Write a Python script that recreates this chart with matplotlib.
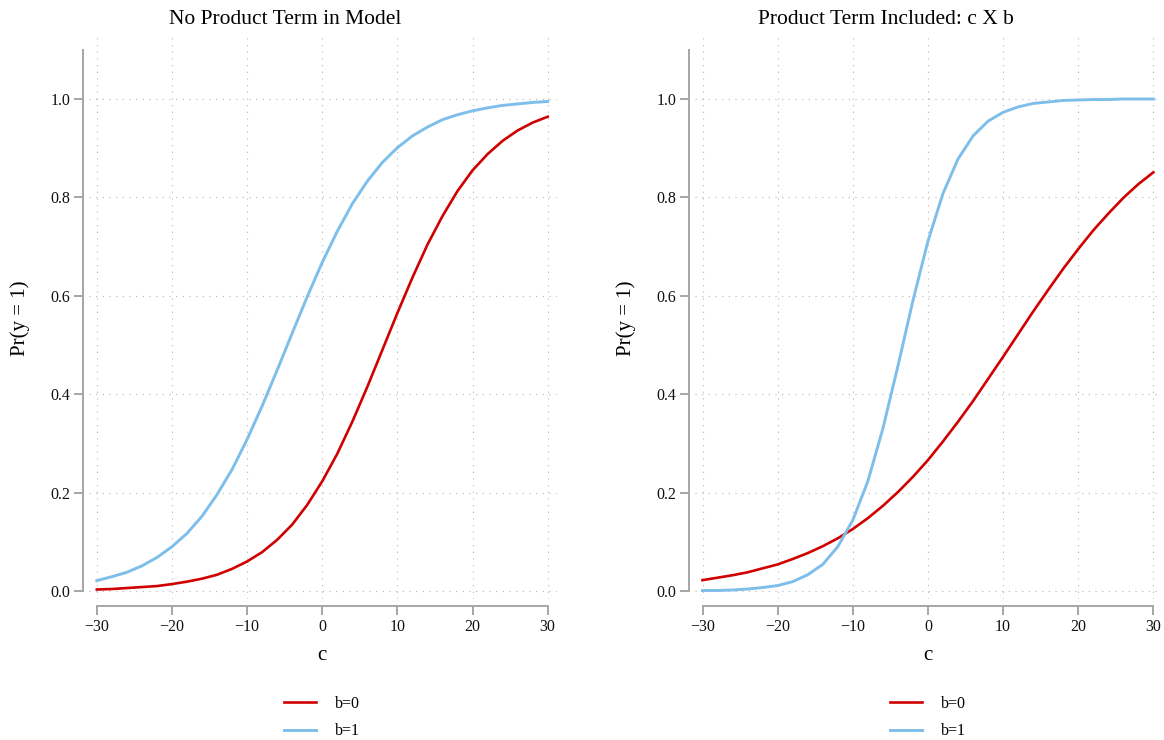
import matplotlib
matplotlib.use("Agg")
import matplotlib.pyplot as plt

plt.rcParams['font.family'] = ['Liberation Serif', 'DejaVu Serif']

# predicted probabilities (c = -30, -28, ..., 30)
c_vals = list(range(-30, 31, 2))

no_prod_b0 = [0.003, 0.004, 0.006, 0.008, 0.010, 0.014, 0.019, 0.025, 0.033, 0.045,
              0.060, 0.079, 0.104, 0.135, 0.175, 0.223, 0.279, 0.344, 0.415, 0.490,
              0.565, 0.637, 0.704, 0.762, 0.813, 0.855, 0.888, 0.915, 0.936, 0.952, 0.964]
no_prod_b1 = [0.021, 0.029, 0.038, 0.051, 0.068, 0.090, 0.117, 0.152, 0.196, 0.247,
              0.308, 0.376, 0.449, 0.524, 0.598, 0.668, 0.731, 0.787, 0.833, 0.871,
              0.901, 0.925, 0.943, 0.958, 0.968, 0.976, 0.982, 0.987, 0.990, 0.993, 0.995]

prod_b0 = [0.022, 0.027, 0.032, 0.038, 0.046, 0.054, 0.065, 0.077, 0.091, 0.107,
           0.126, 0.148, 0.173, 0.201, 0.232, 0.266, 0.304, 0.344, 0.386, 0.431,
           0.476, 0.522, 0.568, 0.612, 0.655, 0.695, 0.733, 0.767, 0.799, 0.827, 0.851]
prod_b1 = [0.001, 0.001, 0.002, 0.004, 0.007, 0.011, 0.019, 0.033, 0.054, 0.090,
           0.144, 0.223, 0.330, 0.457, 0.590, 0.711, 0.808, 0.878, 0.925, 0.955,
           0.973, 0.984, 0.991, 0.994, 0.997, 0.998, 0.999, 0.999, 1.000, 1.000, 1.000]

titles = ["No Product Term in Model", "Product Term Included: c X b"]
legend_labels = ["b=0", "b=1"]
x_ticks = [-30, -20, -10, 0, 10, 20, 30]
y_ticks = [0.0, 0.2, 0.4, 0.6, 0.8, 1.0]

RED = '#D10000'
BLUE = '#7DBEEA'
GRAY = '#A6A6A6'

W, H = 1164, 740
fig = plt.figure(figsize=(W / 100, H / 100), dpi=100)

panels = [(no_prod_b0, no_prod_b1), (prod_b0, prod_b1)]
lefts = [89.3, 695.0]
title_x = [285, 886]
ax_w, ax_b, ax_h = 467.4, 141.0, 560.7

for i, (y0, y1) in enumerate(panels):
    ax = fig.add_axes([lefts[i] / W, ax_b / H, ax_w / W, ax_h / H])
    ax.plot(c_vals, y0, color=RED, lw=1.9, label=legend_labels[0], zorder=3)
    ax.plot(c_vals, y1, color=BLUE, lw=2.1, label=legend_labels[1], zorder=3)

    ax.set_xlim(-31, 31.2)
    ax.set_ylim(-0.0163, 1.1234)
    ax.set_xticks(x_ticks)
    ax.set_yticks(y_ticks)
    ax.set_yticklabels(["%.1f" % v for v in y_ticks])

    ax.grid(True, color='#B5B5B5', lw=0.8, linestyle=(0, (1, 5)))
    ax.set_axisbelow(True)

    for s in ['top', 'right']:
        ax.spines[s].set_visible(False)
    ax.spines['left'].set_position(('outward', 4.3))
    ax.spines['bottom'].set_position(('outward', 4.8))
    ax.spines['left'].set_bounds(0, 1.1)
    ax.spines['bottom'].set_bounds(-30, 30)
    for s in ['left', 'bottom']:
        ax.spines[s].set_color(GRAY)
        ax.spines[s].set_linewidth(1.4)
    ax.tick_params(colors=GRAY, width=1.4, length=6.3, labelcolor='#111111',
                   labelsize=11.5)
    ax.tick_params(axis='y', pad=3)

    ax.set_xlabel('c', fontsize=15, va='center')
    ax.xaxis.set_label_coords(0.498, -0.1)
    ax.set_ylabel('Pr(y = 1)', fontsize=15, va='center')
    ax.yaxis.set_label_coords(-0.148, 0.5)

    fig.text(title_x[i] / W, 1 - 19 / H, titles[i], fontsize=15.5,
             ha='center', va='center')

    cx = (lefts[i] + (0 - (-31)) / 62.2 * ax_w) / W
    ax.legend(loc='center', bbox_to_anchor=(cx, 22.5 / H),
              bbox_transform=fig.transFigure, frameon=False, fontsize=11.5,
              handlelength=2.0, handletextpad=1.2, labelspacing=0.75)

fig.savefig('out.png', dpi=100)
